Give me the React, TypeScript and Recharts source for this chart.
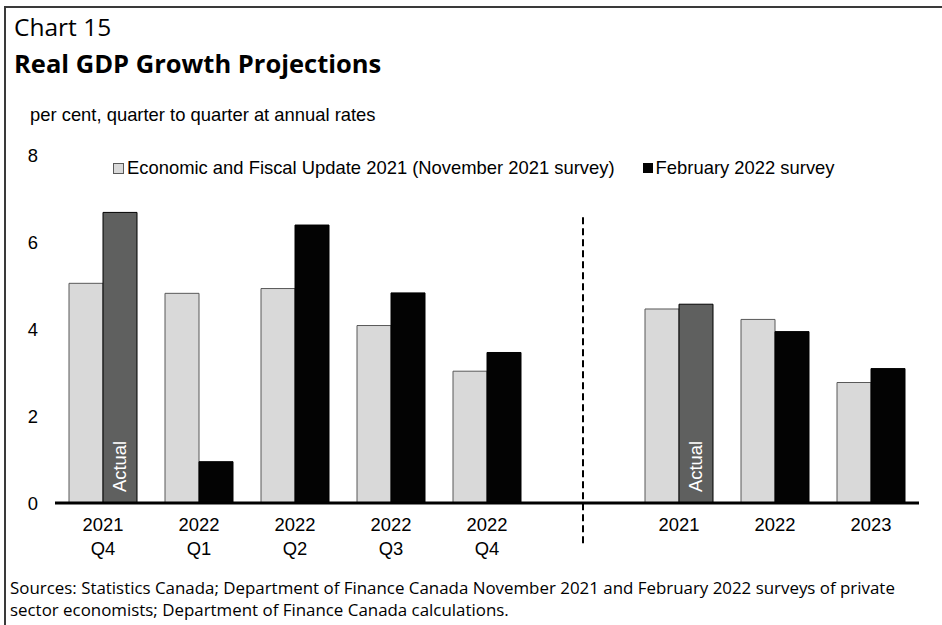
import React from 'react';
import {
  BarChart,
  Bar,
  XAxis,
  YAxis,
  Cell,
  LabelList,
  ReferenceLine,
} from 'recharts';

// category keys; "gap" is the empty slot holding the dashed divider
const categories = ['2021\nQ4', '2022\nQ1', '2022\nQ2', '2022\nQ3', '2022\nQ4', 'gap', '2021', '2022', '2023'];
const efuValues = [5.05, 4.82, 4.93, 4.08, 3.03, null, 4.46, 4.22, 2.77];
const febValues = [6.68, 0.95, 6.39, 4.83, 3.46, null, 4.57, 3.94, 3.09];
const actualFlags = [true, false, false, false, false, false, true, false, false];
const yTicks = [0, 2, 4, 6, 8];

const seriesNames = {
  efu: 'Economic and Fiscal Update 2021 (November 2021 survey)',
  feb: 'February 2022 survey',
};

const data = categories.map((cat, i) => ({
  cat,
  efu: efuValues[i],
  feb: febValues[i],
  actual: actualFlags[i] ? 'Actual' : '',
}));

const ARIAL = '"Liberation Sans", Arial, sans-serif';
const SEGOE = '"Open Sans", "Noto Sans", sans-serif';
const FS = 18.4;

const GRAY = '#d9d9d9';
const DARK = '#5f605f';
const BLACK = '#030303';

const XTick = (props: any) => {
  const { x, y, payload } = props;
  if (payload.value === 'gap') return null;
  const lines = String(payload.value).split('\n');
  return (
    <text x={x} y={y + 20} textAnchor="middle" fontSize={FS} fontFamily={ARIAL} fill="#000">
      {lines.map((l, i) => (
        <tspan key={i} x={x} dy={i === 0 ? 0 : 24}>
          {l}
        </tspan>
      ))}
    </text>
  );
};

const YTick = (props: any) => {
  const { x, y, payload } = props;
  return (
    <text x={x - 9} y={y} dy="0.355em" textAnchor="end" fontSize={FS} fontFamily={ARIAL} fill="#000">
      {payload.value}
    </text>
  );
};

const ActualLabel = (props: any) => {
  const { x, y, width, height, value } = props;
  if (!value) return null;
  const cx = x + width / 2;
  const by = y + height - 11;
  return (
    <text
      x={cx}
      y={by}
      transform={`rotate(-90 ${cx} ${by})`}
      dy="0.35em"
      textAnchor="start"
      fontSize={FS}
      fontFamily={ARIAL}
      fill="#fff"
    >
      {value}
    </text>
  );
};

export default function App() {
  return (
    <div style={{ position: 'relative', width: 942, height: 625, background: '#fff', overflow: 'hidden' }}>
      <style>{'body{margin:0}'}</style>
      <div style={{ position: 'absolute', left: 4, top: 6, width: 938, height: 2, background: '#3a3a3a' }} />
      <div style={{ position: 'absolute', left: 4, top: 6, width: 2, height: 619, background: '#3a3a3a' }} />

      <div style={{ position: 'absolute', left: 14, top: 13, fontFamily: SEGOE, fontSize: 24.5, lineHeight: '28px', color: '#000' }}>
        Chart 15
      </div>
      <div
        style={{
          position: 'absolute',
          left: 14,
          top: 48,
          fontFamily: SEGOE,
          fontSize: 25.5,
          fontWeight: 700,
          lineHeight: '30px',
          color: '#000',
        }}
      >
        Real GDP Growth Projections
      </div>
      <div style={{ position: 'absolute', left: 30, top: 104, fontFamily: ARIAL, fontSize: FS, lineHeight: '22px', color: '#000' }}>
        per cent, quarter to quarter at annual rates
      </div>

      <div style={{ position: 'absolute', left: 0, top: 0 }}>
        <BarChart
          width={942}
          height={625}
          data={data}
          margin={{ top: 155, right: 23, bottom: 62, left: 0 }}
          barSize={34}
          barGap={0}
        >
          <YAxis
            domain={[0, 8]}
            ticks={yTicks}
            width={55}
            axisLine={false}
            tickLine={false}
            tick={<YTick />}
            interval={0}
          />
          <XAxis
            dataKey="cat"
            height={60}
            interval={0}
            tickLine={false}
            axisLine={{ stroke: '#000', strokeWidth: 3 }}
            tick={<XTick />}
          />
          <Bar dataKey="efu" name={seriesNames.efu} fill={GRAY} stroke="#595959" strokeWidth={1} isAnimationActive={false} />
          <Bar dataKey="feb" name={seriesNames.feb} fill={BLACK} stroke="#000" strokeWidth={1} isAnimationActive={false}>
            {data.map((d, i) => (
              <Cell key={i} fill={actualFlags[i] ? DARK : BLACK} />
            ))}
            <LabelList dataKey="actual" content={<ActualLabel />} />
          </Bar>
          <ReferenceLine
            segment={[
              { x: 'gap', y: 6.57 },
              { x: 'gap', y: -1 },
            ]}
            stroke="#000"
            strokeWidth={2}
            strokeDasharray="7 4"
            ifOverflow="visible"
          />
        </BarChart>
      </div>

      {/* legend */}
      <div
        style={{
          position: 'absolute',
          left: 113,
          top: 157,
          display: 'flex',
          alignItems: 'center',
          fontFamily: ARIAL,
          fontSize: FS,
          lineHeight: '22px',
          color: '#000',
          whiteSpace: 'nowrap',
        }}
      >
        <span style={{ width: 9, height: 9, background: GRAY, border: '1px solid #595959', marginRight: 3 }} />
        <span>{seriesNames.efu}</span>
        <span style={{ width: 10, height: 10, background: BLACK, marginLeft: 28, marginRight: 3 }} />
        <span>{seriesNames.feb}</span>
      </div>

      <div
        style={{
          position: 'absolute',
          left: 10,
          top: 577,
          width: 930,
          fontFamily: SEGOE,
          fontSize: 16.9,
          lineHeight: '22px',
          color: '#000',
          whiteSpace: 'nowrap',
        }}
      >
        Sources: Statistics Canada; Department of Finance Canada November 2021 and February 2022 surveys of private
        <br />
        sector economists; Department of Finance Canada calculations.
      </div>
    </div>
  );
}
